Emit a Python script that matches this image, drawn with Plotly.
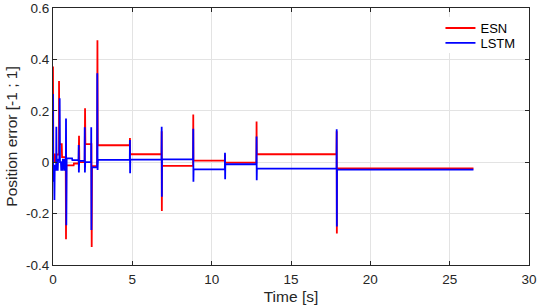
import plotly.graph_objects as go

# ---- data ----
t_esn = [0.00, 0.00, 0.02, 0.10, 0.10, 0.20, 0.22, 0.38, 0.38, 0.40, 0.55, 0.57, 0.80,
         0.82, 0.84, 1.30, 1.32, 1.62, 1.64, 1.66, 2.00, 2.02, 2.04, 2.42, 2.44, 2.46,
         2.78, 2.80, 2.82, 4.84, 4.85, 4.86, 6.84, 6.85, 6.86, 6.87, 8.83, 8.84, 8.85,
         10.83, 10.84, 10.85, 12.82, 12.83, 12.84, 17.87, 17.88, 17.89, 17.90, 26.5]
esn = [0.000, 0.372, 0.030, 0.030, 0.000, 0.000, 0.030, 0.030, 0.316, 0.070, 0.070, 0.020, 0.020,
       -0.300, -0.012, -0.012, -0.005, -0.005, 0.103, 0.000, 0.000, 0.210, 0.070, 0.070, -0.330, -0.015,
       -0.015, 0.475, 0.066, 0.066, 0.094, 0.031, 0.031, 0.120, -0.190, -0.014, -0.014, 0.186, 0.006,
       0.006, 0.030, -0.002, -0.002, 0.158, 0.031, 0.031, 0.120, -0.277, -0.024, -0.024]

t_lstm = [0.00, 0.00, 0.01, 0.03, 0.05, 0.07, 0.09, 0.11, 0.13, 0.20, 0.21, 0.23, 0.30, 0.32,
          0.40, 0.42, 0.44, 0.50, 0.52, 0.60, 0.62, 0.70, 0.72, 0.81, 0.82, 0.84, 0.86, 1.20,
          1.22, 1.61, 1.62, 1.63, 1.65, 1.99, 2.00, 2.01, 2.03, 2.40, 2.41, 2.42, 2.44, 2.78,
          2.79, 2.81, 2.83, 4.84, 4.85, 4.86, 4.87, 6.84, 6.85, 6.86, 6.87, 8.83, 8.84, 8.85,
          8.86, 10.83, 10.84, 10.85, 10.86, 12.82, 12.83, 12.84, 12.85, 17.87, 17.88, 17.89,
          17.90, 26.5]
lstm = [0.000, 0.265, -0.020, -0.020, -0.076, -0.030, -0.147, -0.010, -0.030, -0.030, 0.138, -0.030, -0.030, 0.010,
        0.010, 0.249, 0.000, 0.000, -0.030, -0.030, 0.010, 0.010, -0.030, -0.030, 0.170, -0.245, 0.015, 0.015,
        0.008, 0.008, 0.067, -0.040, 0.005, 0.005, 0.136, -0.040, 0.000, 0.000, 0.136, -0.264, -0.020, -0.020,
        0.346, -0.030, 0.009, 0.009, 0.086, -0.043, 0.010, 0.010, 0.138, -0.134, 0.011, 0.011, 0.130, -0.076,
        -0.028, -0.028, 0.037, -0.066, -0.008, -0.008, 0.100, -0.070, -0.025, -0.025, 0.128, -0.250, -0.029, -0.029]

x_ticks = [0, 5, 10, 15, 20, 25, 30]
x_tick_labels = ["0", "5", "10", "15", "20", "25", "30"]
y_ticks = [-0.4, -0.2, 0, 0.2, 0.4, 0.6]
y_tick_labels = ["-0.4", "-0.2", "0", "0.2", "0.4", "0.6"]

FONT = "Liberation Sans, Arial, Helvetica, sans-serif"
AX = "#262626"

fig = go.Figure()
fig.add_trace(go.Scatter(x=t_esn, y=esn, mode="lines", name="ESN", legend="legend",
                         line=dict(color="#ff0000", width=1.8)))
fig.add_trace(go.Scatter(x=t_lstm, y=lstm, mode="lines", name="LSTM", legend="legend2",
                         line=dict(color="#0000ff", width=1.8)))

axis_common = dict(showline=True, linecolor=AX, linewidth=1, mirror="ticks",
                   ticks="inside", ticklen=4, tickcolor=AX, showgrid=True,
                   gridcolor="#e3e3e3", gridwidth=1, zeroline=False, automargin=False,
                   ticklabeloverflow="allow",
                   tickfont=dict(family=FONT, size=13.5, color=AX))

fig.update_xaxes(range=[0, 30], tickvals=x_ticks, ticktext=x_tick_labels, ticklabelstandoff=2,
                 title=dict(text="Time [s]", font=dict(family=FONT, size=15.5, color=AX), standoff=4),
                 **axis_common)
fig.update_yaxes(range=[-0.4, 0.6], tickvals=y_ticks, ticktext=y_tick_labels,
                 title=dict(text="Position error [-1 ; 1]", font=dict(family=FONT, size=15.5, color=AX), standoff=4),
                 **axis_common)

# white patch behind the legend (hides the grid line there, like the reference)
fig.add_shape(type="rect", xref="paper", yref="paper", x0=0.80, x1=0.985, y0=0.825, y1=0.965,
              fillcolor="white", line=dict(width=0), layer="above")

leg = dict(xanchor="left", yanchor="middle", bgcolor="rgba(0,0,0,0)", borderwidth=0,
           font=dict(family=FONT, size=13, color="#000000"), itemwidth=30)
fig.update_layout(
    width=540, height=305,
    margin=dict(l=53, r=11, t=8, b=40),
    paper_bgcolor="white", plot_bgcolor="white",
    showlegend=True,
    legend=dict(x=0.814, y=0.922, **leg),
    legend2=dict(x=0.814, y=0.864, **leg),
)

fig.write_html("out.html", config={"displayModeBar": False},
               post_script="document.body.style.margin='0px';")
